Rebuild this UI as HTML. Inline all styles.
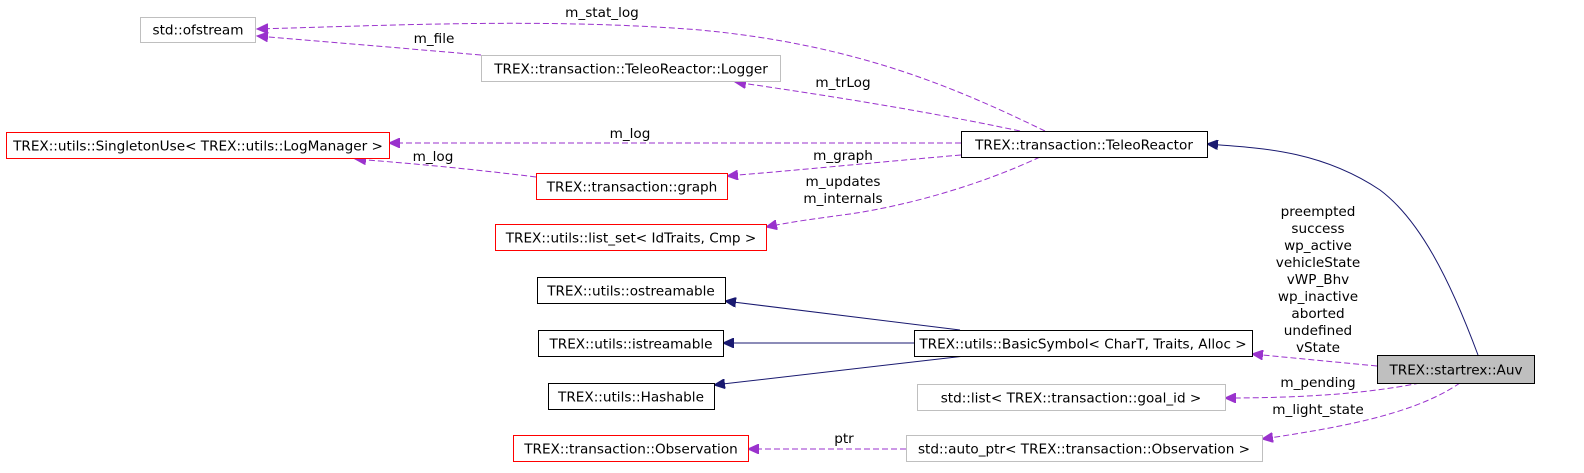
<!DOCTYPE html>
<html><head><meta charset="utf-8"><style>
html,body{margin:0;padding:0;background:#fff;}
svg{display:block;}
text{font-family:"DejaVu Sans","Liberation Sans",sans-serif;font-size:13.6px;fill:#000;}
.p{fill:none;stroke:#9a32cd;stroke-width:1;stroke-dasharray:6,3;}
.n{fill:none;stroke:#191970;stroke-width:1;}
.ap{fill:#9a32cd;stroke:#9a32cd;}
.an{fill:#191970;stroke:#191970;}
</style></head><body>
<svg width="1584" height="473" viewBox="0 0 1584 473" xmlns="http://www.w3.org/2000/svg">
<defs>
<marker id="mp" markerWidth="12" markerHeight="10" refX="11" refY="5" orient="auto" markerUnits="userSpaceOnUse"><path d="M0,0 L11,5 L0,10 z" class="ap"/></marker>
<marker id="mn" markerWidth="12" markerHeight="10" refX="11" refY="5" orient="auto" markerUnits="userSpaceOnUse"><path d="M0,0 L11,5 L0,10 z" class="an"/></marker>
</defs>

<path class="p" marker-end="url(#mp)" d="M1045,131 C960,90 860,45 700,30 C550,18 400,25 257,29"/>
<path class="p" marker-end="url(#mp)" d="M481,55 C400,48 330,42 257,36"/>
<path class="p" marker-end="url(#mp)" d="M1020,131 C920,110 830,96 735,82"/>
<path class="p" marker-end="url(#mp)" d="M961,143 L389,143"/>
<path class="p" marker-end="url(#mp)" d="M536,177 C480,170 420,164 355,159"/>
<path class="p" marker-end="url(#mp)" d="M961,155 C880,162 800,170 727,176"/>
<path class="p" marker-end="url(#mp)" d="M1040,157 C980,185 910,205 850,214 C820,218 790,222 766,227"/>
<path class="n" marker-end="url(#mn)" d="M960,330 L725,301"/>
<path class="n" marker-end="url(#mn)" d="M914,343 L723,343"/>
<path class="n" marker-end="url(#mn)" d="M965,356 L714,385"/>
<path class="n" marker-end="url(#mn)" d="M1478,355 C1450,280 1420,220 1380,190 C1320,150 1260,148 1207,144"/>
<path class="p" marker-end="url(#mp)" d="M1377,366 L1252,354"/>
<path class="p" marker-end="url(#mp)" d="M1420,383 C1360,395 1290,398 1225,398"/>
<path class="p" marker-end="url(#mp)" d="M1460,383 C1420,410 1360,425 1262,439"/>
<path class="p" marker-end="url(#mp)" d="M906,449 L748,449"/>

<g text-anchor="middle">
<text x="602" y="17">m_stat_log</text>
<text x="434" y="43">m_file</text>
<text x="843" y="87">m_trLog</text>
<text x="630" y="138">m_log</text>
<text x="433" y="161">m_log</text>
<text x="843" y="160">m_graph</text>
<text x="843" y="186">m_updates</text>
<text x="843" y="203">m_internals</text>
<text x="1318" y="216">preempted</text>
<text x="1318" y="233">success</text>
<text x="1318" y="250">wp_active</text>
<text x="1318" y="267">vehicleState</text>
<text x="1318" y="284">vWP_Bhv</text>
<text x="1318" y="301">wp_inactive</text>
<text x="1318" y="318">aborted</text>
<text x="1318" y="335">undefined</text>
<text x="1318" y="352">vState</text>
<text x="1318" y="387">m_pending</text>
<text x="1318" y="414">m_light_state</text>
<text x="844" y="443">ptr</text>
</g>

<g text-anchor="middle">
<rect x="140.5" y="17.5" width="115" height="25" fill="#fff" stroke="#bfbfbf"/>
<text x="198" y="34.5">std::ofstream</text>
<rect x="481.5" y="55.5" width="299" height="26" fill="#fff" stroke="#bfbfbf"/>
<text x="631" y="73.5">TREX::transaction::TeleoReactor::Logger</text>
<rect x="6.5" y="132.5" width="383" height="26" fill="#fff" stroke="#ff0000"/>
<text x="198" y="150.5">TREX::utils::SingletonUse&lt; TREX::utils::LogManager &gt;</text>
<rect x="961.5" y="131.5" width="246" height="26" fill="#fff" stroke="#000"/>
<text x="1084" y="149.5">TREX::transaction::TeleoReactor</text>
<rect x="536.5" y="173.5" width="191" height="26" fill="#fff" stroke="#ff0000"/>
<text x="632" y="191.5">TREX::transaction::graph</text>
<rect x="495.5" y="224.5" width="271" height="26" fill="#fff" stroke="#ff0000"/>
<text x="631" y="242.5">TREX::utils::list_set&lt; IdTraits, Cmp &gt;</text>
<rect x="537.5" y="277.5" width="188" height="26" fill="#fff" stroke="#000"/>
<text x="631" y="295.5">TREX::utils::ostreamable</text>
<rect x="538.5" y="330.5" width="185" height="26" fill="#fff" stroke="#000"/>
<text x="631" y="348.5">TREX::utils::istreamable</text>
<rect x="914.5" y="330.5" width="338" height="26" fill="#fff" stroke="#000"/>
<text x="1083" y="348.5">TREX::utils::BasicSymbol&lt; CharT, Traits, Alloc &gt;</text>
<rect x="548.5" y="383.5" width="166" height="26" fill="#fff" stroke="#000"/>
<text x="631" y="401.5">TREX::utils::Hashable</text>
<rect x="1377.5" y="355.5" width="157" height="28" fill="#bfbfbf" stroke="#000"/>
<text x="1456" y="374.5">TREX::startrex::Auv</text>
<rect x="917.5" y="384.5" width="308" height="26" fill="#fff" stroke="#bfbfbf"/>
<text x="1071" y="402.5">std::list&lt; TREX::transaction::goal_id &gt;</text>
<rect x="513.5" y="435.5" width="235" height="26" fill="#fff" stroke="#ff0000"/>
<text x="631" y="453.5">TREX::transaction::Observation</text>
<rect x="906.5" y="435.5" width="356" height="26" fill="#fff" stroke="#bfbfbf"/>
<text x="1084" y="453.5">std::auto_ptr&lt; TREX::transaction::Observation &gt;</text>
</g>
</svg>
</body></html>
